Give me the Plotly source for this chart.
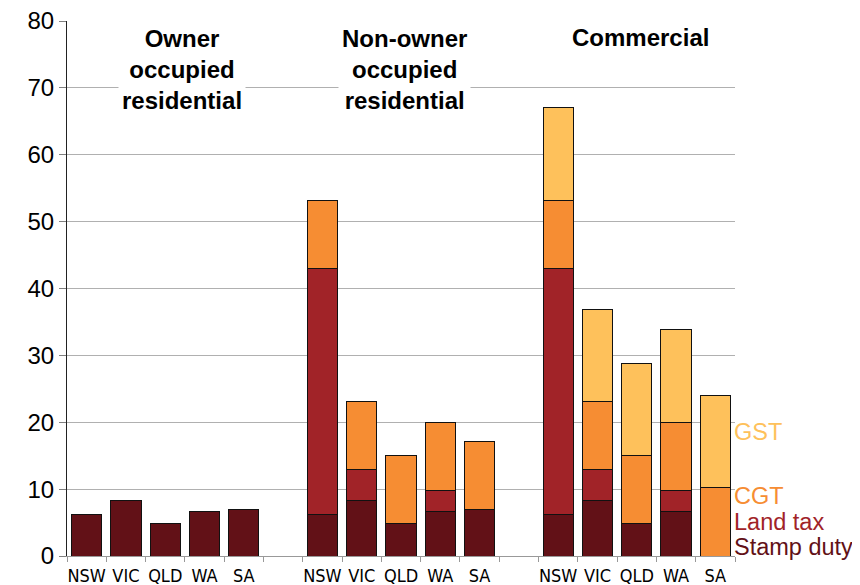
import plotly.graph_objects as go

states = ["NSW", "VIC", "QLD", "WA", "SA"]
groups = ["Owner<br>occupied<br>residential", "Non-owner<br>occupied<br>residential", "Commercial"]

# values per group (owner occupied, non-owner occupied, commercial), per state
stamp_duty = [[6.2, 8.3, 4.8, 6.6, 6.9],
              [6.2, 8.3, 4.8, 6.6, 6.9],
              [6.2, 8.3, 4.8, 6.6, 0.0]]
land_tax = [[0, 0, 0, 0, 0],
            [36.8, 4.6, 0, 3.2, 0],
            [36.8, 4.6, 0, 3.2, 0]]
cgt = [[0, 0, 0, 0, 0],
       [10.2, 10.2, 10.2, 10.2, 10.2],
       [10.2, 10.2, 10.2, 10.2, 10.2]]
gst = [[0, 0, 0, 0, 0],
       [0, 0, 0, 0, 0],
       [13.8, 13.8, 13.8, 13.8, 13.8]]

series = [("Stamp duty", stamp_duty, "#621117"),
          ("Land tax", land_tax, "#A12328"),
          ("CGT", cgt, "#F68D33"),
          ("GST", gst, "#FEC15B")]

slot = len(states) + 1
xs, labels = [], []
for g in range(len(groups)):
    for i, s in enumerate(states):
        xs.append(g * slot + i)
        labels.append(s)

fig = go.Figure()
for name, vals, color in series:
    flat = [v if v else None for grp in vals for v in grp]
    fig.add_trace(go.Bar(x=xs, y=flat, name=name, width=0.77,
                         marker=dict(color=color, line=dict(color="#111111", width=1))))

font = "Liberation Sans, Arial, sans-serif"
narrow = "Liberation Sans Narrow, DejaVu Sans Condensed, Liberation Sans, Arial, sans-serif"
# group titles
title_x = [2.43, 8.1, 14.1]
title_y = [72.7, 72.7, 77.6]
for g, t in enumerate(groups):
    fig.add_annotation(x=title_x[g], y=title_y[g], xref="x", yref="y", text="<b>" + t + "</b>",
                       showarrow=False, yanchor="middle", xanchor="center",
                       font=dict(family=font, size=24, color="black"), bgcolor="white",
                       borderpad=3)

# right-side legend labels
legend_pos = [("GST", 18.5, "#FEC15B"), ("CGT", 9.0, "#F68D33"),
              ("Land tax", 5.1, "#A12328"), ("Stamp duty", 1.35, "#621117")]
for txt, yv, col in legend_pos:
    fig.add_annotation(x=1.0, y=yv, xref="paper", yref="y", text=txt, showarrow=False,
                       xanchor="left", yanchor="middle", xshift=-3,
                       font=dict(family=font, size=23.5, color=col))

xmax = len(groups) * slot - 1
fig.update_layout(
    width=852, height=577, barmode="stack", showlegend=False,
    plot_bgcolor="white", paper_bgcolor="white",
    margin=dict(l=59, r=125, t=13, b=29),
    font=dict(family=font, color="black"),
    xaxis=dict(range=[-0.5, xmax - 0.5], tickmode="array", tickvals=xs, ticktext=labels,
               ticks="outside", ticklen=3, tickcolor="rgba(0,0,0,0)", automargin=False,
               tickfont=dict(size=18, family=narrow), showgrid=False, zeroline=False,
               showline=True, linecolor="#999999", linewidth=1, ticklabeloverflow="allow",
               minor=dict(tickmode="linear", tick0=-0.5, dtick=1, ticks="outside",
                          ticklen=5, tickcolor="#999999", showgrid=False)),
    yaxis=dict(range=[0, 80], dtick=10, showgrid=True, gridcolor="#B0B0B0", gridwidth=1,
               ticks="outside", ticklen=7, tickcolor="#808080", tickfont=dict(size=24),
               automargin=False, ticklabeloverflow="allow",
               showline=True, linecolor="#222222", linewidth=1, zeroline=False),
)

fig.write_html("out.html")
